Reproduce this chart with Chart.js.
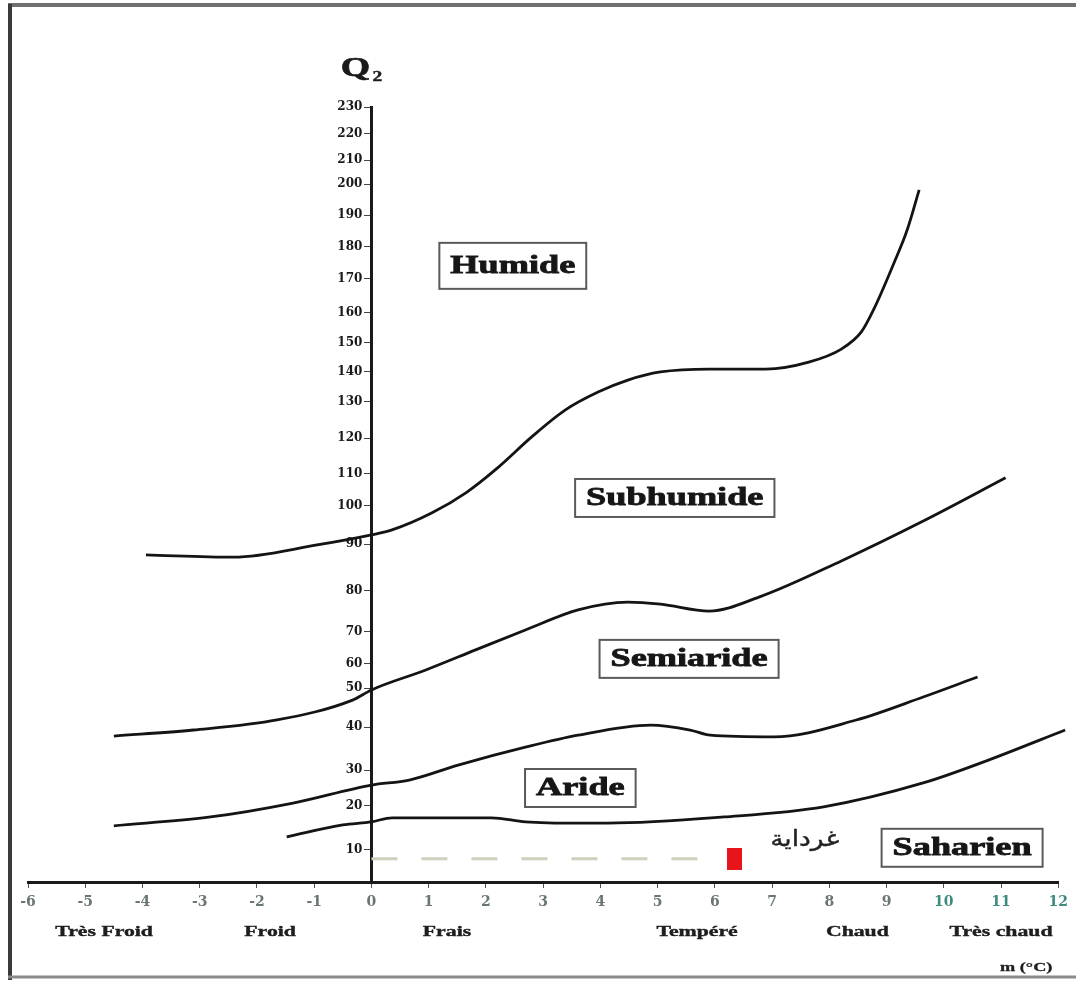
<!DOCTYPE html>
<html><head><meta charset="utf-8">
<script src="https://cdn.jsdelivr.net/npm/chart.js@4"></script>
<style>html,body{margin:0;padding:0;background:#fff;}canvas{display:block}</style>
</head><body>
<canvas id="c" width="1076" height="983"></canvas>
<script>
// ---------- DATA ----------
const mTicks  = [-6,-5,-4,-3,-2,-1,0,1,2,3,4,5,6,7,8,9,10,11,12];
const q2Ticks = [0,10,20,30,40,50,60,70,80,90,100,110,120,130,140,150,160,170,180,190,200,210,220,230];

// Humide / Subhumide boundary
const humideM  = [-3.94,-2.41,-0.95,0,0.36,1.06,1.65,2.22,2.80,3.39,3.96,4.48,5.05,5.90,6.89,7.64,8.21,8.56,8.78,9.13,9.36,9.57];
const humideQ2 = [87.7,87.2,89.8,92.4,93.7,98.2,104.1,111.9,120.3,127.8,133.3,137.3,140.0,141.0,141.0,143.4,147.9,153.7,161.2,175.0,185.3,198.1];
// Subhumide / Semiaride boundary
const subhumideM  = [-4.50,-3.11,-1.65,-0.33,0,0.95,1.82,2.69,3.61,4.48,5.05,5.90,6.77,8.21,9.65,11.08];
const subhumideQ2 = [37.9,39.3,41.8,46.9,49.5,57.5,64.4,70.5,75.4,77.3,76.8,75.1,78.5,86.4,96.1,108.8];
// Semiaride / Aride boundary
const semiarideM  = [-4.50,-2.81,-1.37,0,0.66,1.53,2.69,3.61,4.88,5.57,5.92,7.03,8.47,9.64,10.59];
const semiarideQ2 = [15.5,17.5,20.8,25.8,27.2,31.2,35.3,38.1,40.5,39.3,38.1,37.7,41.8,47.7,54.6];
// Aride / Saharien boundary
const arideM  = [-1.48,-0.50,0,0.36,2.10,2.69,3.61,4.13,6.16,7.90,9.64,10.78,12.12];
const arideQ2 = [13.0,15.7,16.4,17.3,17.3,16.4,16.1,16.1,17.5,19.8,26.4,32.3,39.3];

// Station (Ghardaia)
const stationName = 'غرداية';
const stationM  = [6.34];
const stationQ2 = [7.3];
const guideM  = [0, 6.0];
const guideQ2 = [7.3, 7.3];

// Bioclimatic zone labels (anchored in data units)
const zoneNames = ['Humide','Subhumide','Semiaride','Aride','Saharien'];
const zoneM  = [2.47, 5.30, 5.55, 3.65, 10.32];
const zoneQ2 = [174.1, 102.5, 61.6, 25.0, 10.5];

// Thermal variants along the m axis
const thermalNames = ['Très Froid','Froid','Frais','Tempéré','Chaud','Très chaud'];
const thermalM = [-4.67,-1.77,1.32,5.69,8.49,11.0];

// ---------- AXIS GEOMETRY of the hand-drawn Q2 axis (fraction of height at each tick) ----------
const Q2_AXIS_FRACTIONS = [0,0.0413,0.0981,0.1445,0.2,0.2503,0.2813,0.3226,0.3755,0.4361,0.4852,0.5265,0.5729,0.6194,0.6581,0.6955,0.7342,0.7781,0.8194,0.8606,0.9006,0.9316,0.9652,1];

function warpFrac(v){
  const vs=q2Ticks, fs=Q2_AXIS_FRACTIONS;
  let i=1; while(i<vs.length-1 && v>vs[i]) i++;
  const t=(v-vs[i-1])/(vs[i]-vs[i-1]);
  return fs[i-1]+t*(fs[i]-fs[i-1]);
}
function unwarp(f){
  const vs=q2Ticks, fs=Q2_AXIS_FRACTIONS;
  let i=1; while(i<fs.length-1 && f>fs[i]) i++;
  const t=(f-fs[i-1])/(fs[i]-fs[i-1]);
  return vs[i-1]+t*(vs[i]-vs[i-1]);
}
class WarpedScale extends Chart.LinearScale {
  buildTicks(){ this.start=this.min; this.end=this.max; return q2Ticks.map(v=>({value:v})); }
  getPixelForValue(value){ return this.getPixelForDecimal(warpFrac(value)); }
  getValueForPixel(pixel){ return unwarp(this.getDecimalForPixel(pixel)); }
  _computeLabelItems(chartArea){
    const items = super._computeLabelItems(chartArea);
    const off = this.options.grid.tickLength + this.options.ticks.padding;
    items.forEach(it=>{ const t=it.options.translation; it.options.translation=[t[0]-off,t[1]]; });
    return items;
  }
}
WarpedScale.id='warped';
WarpedScale.defaults = Chart.LinearScale.defaults;
Chart.register(WarpedScale);

const pts=(xs,ys)=>xs.map((x,i)=>({x:x,y:ys[i]}));

const mark=document.createElement('canvas'); mark.width=15; mark.height=22;
(function(){const c=mark.getContext('2d'); c.fillStyle='#e8141c'; c.fillRect(0,0,15,22);})();

function sText(ctx,text,x,y,font,sx,color,stroke){
  ctx.save(); ctx.font=font; ctx.fillStyle=color; ctx.textAlign='center'; ctx.textBaseline='middle';
  ctx.translate(x,y); ctx.scale(sx,1); ctx.fillText(text,0,0);
  if(stroke){ ctx.strokeStyle=color; ctx.lineWidth=stroke; ctx.strokeText(text,0,0); }
  ctx.restore();
}

const decor = {
  id:'decor',
  beforeDraw(chart){
    const ctx=chart.ctx; ctx.save();
    ctx.fillStyle='#fff'; ctx.fillRect(0,0,chart.width,chart.height);
    ctx.lineCap='butt';
    ctx.strokeStyle='#707070'; ctx.lineWidth=4;
    ctx.beginPath(); ctx.moveTo(8,5); ctx.lineTo(chart.width,5); ctx.stroke();
    ctx.strokeStyle='#3a3a3a'; ctx.lineWidth=4;
    ctx.beginPath(); ctx.moveTo(10,4); ctx.lineTo(10,980); ctx.stroke();
    ctx.strokeStyle='#8a8a8a'; ctx.lineWidth=3;
    ctx.beginPath(); ctx.moveTo(8,977); ctx.lineTo(chart.width,977); ctx.stroke();
    ctx.restore();
  },
  afterDraw(chart){
    const ctx=chart.ctx, xs=chart.scales.x, ys=chart.scales.y, ca=chart.chartArea;
    // Q2 title
    const ax=xs.getPixelForValue(0);
    sText(ctx,'Q',ax-16,ca.top-38,'bold 27px "Liberation Serif"',1.4,'#1a1a1a',0.6);
    sText(ctx,'2',ax+6,ca.top-30,'bold 15px "Liberation Serif"',1.3,'#1a1a1a',0.4);
    // zone boxes
    ctx.save();
    zoneNames.forEach((n,i)=>{
      const cx=xs.getPixelForValue(zoneM[i]), cy=ys.getPixelForValue(zoneQ2[i]);
      const font='bold 25px "Liberation Serif"', sx=1.45;
      ctx.font=font; const w=ctx.measureText(n).width*sx+22, h=(i===0?46:38);
      ctx.fillStyle='#fff'; ctx.fillRect(cx-w/2,cy-h/2,w,h);
      ctx.strokeStyle='#5a5a5a'; ctx.lineWidth=2; ctx.strokeRect(cx-w/2,cy-h/2,w,h);
      sText(ctx,n,cx,cy+1,font,sx,'#161616',0.8);
    });
    ctx.restore();
    // thermal classes
    thermalNames.forEach((n,i)=>{
      sText(ctx,n,xs.getPixelForValue(thermalM[i]),ca.bottom+50,'bold 15px "Liberation Serif"',1.45,'#1e1e1e',0.4);
    });
    sText(ctx,'m (°C)',xs.getPixelForValue(11.44),ca.bottom+86,'bold 13px "Liberation Serif"',1.4,'#1e1e1e',0.3);
    // station label
    sText(ctx,stationName,xs.getPixelForValue(7.57),ys.getPixelForValue(12.3),'22px "DejaVu Sans"',1.2,'#222',0.4);
  }
};

const lineStyle={borderColor:'#141414',borderWidth:2.8,pointRadius:0,fill:false,cubicInterpolationMode:'monotone',clip:10};

new Chart(document.getElementById('c'),{
  type:'line',
  data:{datasets:[
    Object.assign({label:'Humide',data:pts(humideM,humideQ2)},lineStyle),
    Object.assign({label:'Subhumide',data:pts(subhumideM,subhumideQ2)},lineStyle),
    Object.assign({label:'Semiaride',data:pts(semiarideM,semiarideQ2)},lineStyle),
    Object.assign({label:'Aride',data:pts(arideM,arideQ2)},lineStyle),
    {label:'guide',data:pts(guideM,guideQ2),borderColor:'#cfcfbd',borderWidth:3,borderDash:[26,24],pointRadius:0,fill:false},
    {label:stationName,data:pts(stationM,stationQ2),showLine:false,pointStyle:mark,pointRadius:9,borderWidth:0}
  ]},
  options:{
    responsive:false, animation:false, devicePixelRatio:1, events:[],
    layout:{padding:{left:28,right:11,top:107,bottom:101}},
    plugins:{legend:{display:false},tooltip:{enabled:false}},
    scales:{
      x:{type:'linear',min:-6,max:12,position:{y:0},
        ticks:{stepSize:1,autoSkip:false,padding:8,maxRotation:0,
          color:c=>c.tick && c.tick.value>=10?'#3d8a7e':'#6a7676',
          font:{family:'"DejaVu Serif"',size:14,weight:'bold'},
          callback:v=>mTicks.includes(v)?String(v):''},
        grid:{drawOnChartArea:false,drawTicks:true,tickLength:4,color:'#555',lineWidth:1},
        border:{display:true,color:'#1a1a1a',width:3}},
      y:{type:'warped',min:0,max:230,position:{x:0},
        ticks:{autoSkip:false,padding:3,color:'#1a1a1a',
          font:{family:'"DejaVu Serif"',size:12,weight:'bold'},
          callback:v=>v===0?'':String(v)},
        grid:{drawOnChartArea:false,drawTicks:true,tickLength:6,color:'#444',lineWidth:1},
        border:{display:true,color:'#1a1a1a',width:3}}
    }
  },
  plugins:[decor]
});
</script>
</body></html>
